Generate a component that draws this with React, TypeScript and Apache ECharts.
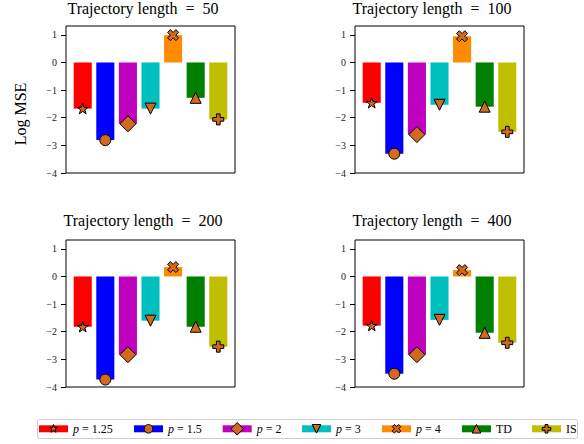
import React, { useEffect, useRef } from "react";
import * as echarts from "echarts";

// ---- data ----
const categories = ["p = 1.25", "p = 1.5", "p = 2", "p = 3", "p = 4", "TD", "IS"];
const trajectoryLengths = [50, 100, 200, 400];
const logMse50 = [-1.67, -2.81, -2.22, -1.67, 0.99, -1.28, -2.06];
const logMse100 = [-1.46, -3.3, -2.61, -1.53, 0.95, -1.6, -2.51];
const logMse200 = [-1.82, -3.73, -2.83, -1.6, 0.34, -1.82, -2.54];
const logMse400 = [-1.78, -3.52, -2.83, -1.57, 0.23, -2.04, -2.4];
const yTicks = [-4, -3, -2, -1, 0, 1];

const panelValues = [logMse50, logMse100, logMse200, logMse400];

// ---- styles ----
const barColors = ["#ff0000", "#0000ff", "#bf00bf", "#00bfbf", "#ff8c00", "#008000", "#bfbf00"];
const markerKinds = ["star", "circle", "diamond", "triDown", "x", "triUp", "plus"];
const markerSizes = [11, 11, 16, 11, 11, 11, 11];
const markerColor = "#d2691e";
const FONT = "Liberation Serif";

const gridLefts = [66, 355, 66, 355];
const gridTops = [26, 26, 240, 240];
const gridW = 169;
const gridH = 147;

function shapePoints(kind: string): number[][] {
  if (kind === "star") {
    const pts: number[][] = [];
    for (let i = 0; i < 10; i++) {
      const a = ((-90 + i * 36) * Math.PI) / 180;
      const r = i % 2 === 0 ? 0.5 : 0.5 * 0.382;
      pts.push([r * Math.cos(a), r * Math.sin(a)]);
    }
    return pts;
  }
  if (kind === "diamond") return [[0, -0.5], [0.5, 0], [0, 0.5], [-0.5, 0]];
  if (kind === "triDown") return [[-0.5, -0.5], [0.5, -0.5], [0, 0.5]];
  if (kind === "triUp") return [[0, -0.5], [0.5, 0.5], [-0.5, 0.5]];
  if (kind === "x")
    return [[-1, -2], [0, -1], [1, -2], [2, -1], [1, 0], [2, 1], [1, 2], [0, 1], [-1, 2], [-2, 1], [-1, 0], [-2, -1]].map(
      (p) => [p[0] / 4, p[1] / 4]
    );
  if (kind === "plus")
    return [[-1, -3], [1, -3], [1, -1], [3, -1], [3, 1], [1, 1], [1, 3], [-1, 3], [-1, 1], [-3, 1], [-3, -1], [-1, -1]].map(
      (p) => [p[0] / 6, p[1] / 6]
    );
  return [];
}

function symbolFor(kind: string): string {
  if (kind === "circle") return "circle";
  const pts = shapePoints(kind);
  return "path://M" + pts.map((p) => `${(p[0] * 100).toFixed(2)} ${(p[1] * 100).toFixed(2)}`).join(" L") + " Z";
}

const legendRectX = [39, 134, 222.7, 302, 382, 462, 532];

function minusFmt(v: number): string {
  if (Math.abs(v - Math.round(v)) > 1e-6) return "";
  return v < 0 ? "\u2212" + Math.abs(v) : String(v);
}

export default function App() {
  const ref = useRef<HTMLDivElement>(null);
  useEffect(() => {
    document.body.style.margin = "0";
    const chart = echarts.init(ref.current!, undefined, { renderer: "svg" });

    const grids = gridLefts.map((l, k) => ({
      left: l,
      top: gridTops[k],
      width: gridW,
      height: gridH,
      show: true,
      borderColor: "#000",
      borderWidth: 1,
      backgroundColor: "#fff",
    }));
    const xAxes = gridLefts.map((_, k) => ({
      type: "value",
      gridIndex: k,
      min: -0.74,
      max: 6.74,
      show: false,
    }));
    const yAxes = gridLefts.map((_, k) => ({
      type: "value",
      gridIndex: k,
      position: "left",
      min: -4,
      max: 1.32,
      interval: 1,
      axisLine: { show: false, onZero: false },
      splitLine: { show: false },
      axisTick: { show: true, length: 5, lineStyle: { color: "#000" }, customValues: yTicks },
      axisLabel: {
        show: true,
        margin: 9,
        fontFamily: FONT,
        fontSize: 10,
        color: "#222",
        customValues: yTicks,
        formatter: (v: number) => minusFmt(v),
      },
    }));

    const barW = (gridW / 7.48) * 0.8;
    const series: any[] = [];
    panelValues.forEach((vals, k) => {
      series.push({
        type: "bar",
        name: "bars" + k,
        xAxisIndex: k,
        yAxisIndex: k,
        barWidth: barW,
        data: vals.map((v, i) => ({ value: [i, v], itemStyle: { color: barColors[i] } })),
        z: 2,
      });
      series.push({
        type: "scatter",
        name: "markers" + k,
        xAxisIndex: k,
        yAxisIndex: k,
        symbolKeepAspect: true,
        itemStyle: { color: markerColor, borderColor: "#000", borderWidth: 1, opacity: 1 },
        data: vals.map((v, i) => ({
          value: [i, v],
          symbol: symbolFor(markerKinds[i]),
          symbolSize: markerSizes[i],
        })),
        z: 3,
      });
    });

    const graphics: any[] = [];
    // panel titles
    trajectoryLengths.forEach((L, k) => {
      graphics.push({
        type: "text",
        x: gridLefts[k] + gridW / 2 - 7.5,
        y: Math.max(0, gridTops[k] - 28),
        style: {
          text: `Trajectory length  =  ${L}`,
          fontFamily: FONT,
          fontSize: 16,
          fill: "#000",
          align: "center",
          verticalAlign: "top",
        },
      });
    });
    // y axis label
    graphics.push({
      type: "text",
      x: 20,
      y: 114,
      rotation: Math.PI / 2,
      style: {
        text: "Log MSE",
        fontFamily: FONT,
        fontSize: 16,
        fill: "#000",
        align: "center",
        verticalAlign: "middle",
      },
    });
    // legend
    graphics.push({
      type: "rect",
      shape: { x: 37.5, y: 419.5, width: 540, height: 19, r: 2 },
      style: { fill: "#fff", stroke: "#cccccc", lineWidth: 1 },
    });
    const legendScale = 0.78;
    const cy = 428.8;
    categories.forEach((name, i) => {
      const rx = legendRectX[i];
      const cx = rx + 14.5;
      graphics.push({
        type: "rect",
        shape: { x: rx, y: 425.3, width: 29, height: 7 },
        style: { fill: barColors[i] },
      });
      const s = markerSizes[i] * legendScale;
      if (markerKinds[i] === "circle") {
        graphics.push({
          type: "circle",
          shape: { cx, cy, r: s / 2 },
          style: { fill: markerColor, stroke: "#000", lineWidth: 1 },
        });
      } else {
        graphics.push({
          type: "polygon",
          shape: { points: shapePoints(markerKinds[i]).map((p) => [cx + p[0] * s, cy + p[1] * s]) },
          style: { fill: markerColor, stroke: "#000", lineWidth: 1 },
        });
      }
      const isP = name.startsWith("p ");
      graphics.push({
        type: "text",
        x: rx + 34,
        y: cy,
        style: {
          text: isP ? "{i|p}" + name.slice(1) : name,
          fontFamily: FONT,
          fontSize: 12,
          fill: "#000",
          verticalAlign: "middle",
          rich: { i: { fontStyle: "italic", fontFamily: FONT, fontSize: 12 } },
        },
      });
    });

    chart.setOption({
      animation: false,
      backgroundColor: "#fff",
      grid: grids,
      xAxis: xAxes,
      yAxis: yAxes,
      series,
      graphic: graphics,
    });
    return () => chart.dispose();
  }, []);
  return (
    <div
      ref={ref}
      style={{ position: "fixed", left: 0, top: 0, width: 584, height: 444 }}
    />
  );
}
